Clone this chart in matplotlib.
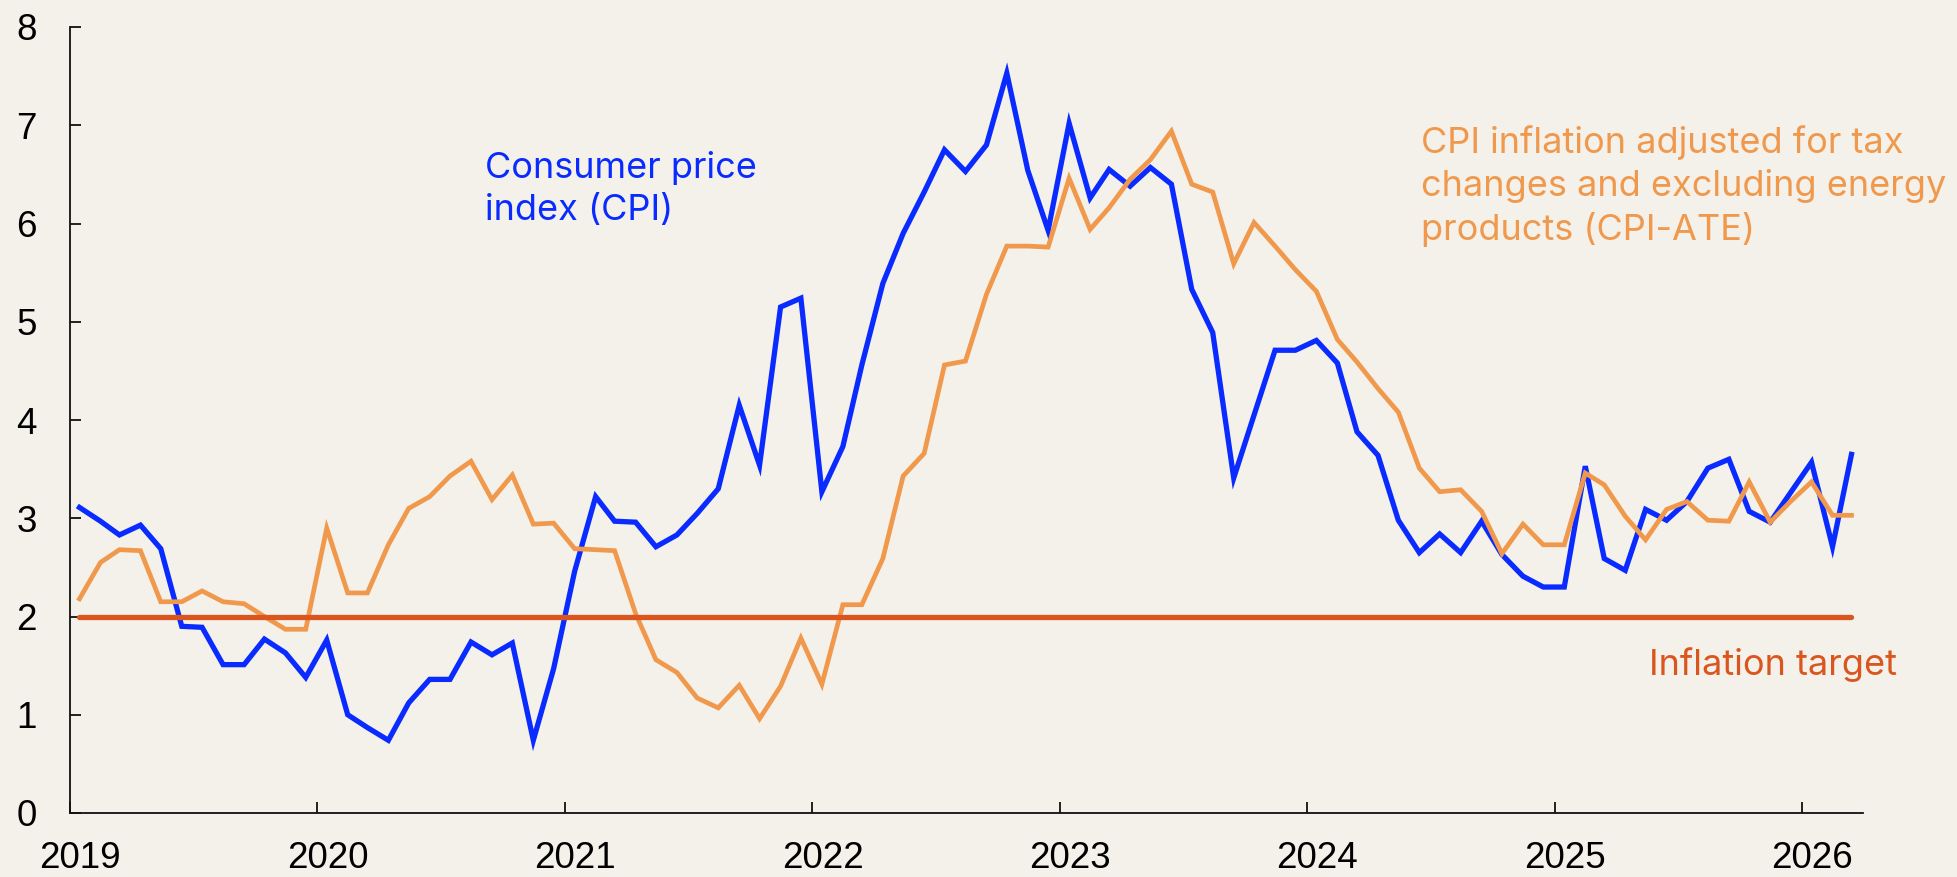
import matplotlib
matplotlib.use("Agg")
import matplotlib.pyplot as plt
import pandas as pd

# ---- data (monthly, Jan 2019 - Mar 2026, annual % change) ----
cpi = [3.11, 2.97, 2.83, 2.93, 2.69, 1.90, 1.89, 1.51, 1.51, 1.77, 1.63, 1.38,
       1.76, 1.00, 0.87, 0.74, 1.12, 1.36, 1.36, 1.74, 1.61, 1.73, 0.74, 1.47,
       2.46, 3.22, 2.97, 2.96, 2.71, 2.83, 3.05, 3.30, 4.15, 3.54, 5.15, 5.24,
       3.27, 3.73, 4.56, 5.39, 5.90, 6.32, 6.75, 6.53, 6.80, 7.53, 6.54, 5.93,
       7.02, 6.26, 6.55, 6.38, 6.57, 6.40, 5.33, 4.89, 3.41, 4.05, 4.71, 4.71,
       4.81, 4.58, 3.88, 3.64, 2.98, 2.65, 2.84, 2.65, 2.97, 2.63, 2.41, 2.30,
       2.30, 3.53, 2.59, 2.47, 3.09, 2.98, 3.17, 3.51, 3.60, 3.07, 2.96, 3.26,
       3.57, 2.71, 3.65]
cpi_ate = [2.18, 2.55, 2.68, 2.67, 2.15, 2.15, 2.26, 2.15, 2.13, 2.00, 1.87, 1.87,
           2.90, 2.24, 2.24, 2.73, 3.10, 3.22, 3.43, 3.58, 3.19, 3.44, 2.94, 2.95,
           2.69, 2.68, 2.67, 2.03, 1.56, 1.43, 1.17, 1.07, 1.30, 0.96, 1.29, 1.78,
           1.31, 2.12, 2.12, 2.59, 3.43, 3.66, 4.56, 4.60, 5.28, 5.77, 5.77, 5.76,
           6.46, 5.94, 6.16, 6.45, 6.65, 6.94, 6.40, 6.32, 5.59, 6.01, 5.77, 5.53,
           5.31, 4.82, 4.59, 4.32, 4.08, 3.51, 3.27, 3.29, 3.07, 2.64, 2.94, 2.73,
           2.73, 3.46, 3.34, 3.02, 2.78, 3.09, 3.17, 2.98, 2.97, 3.37, 2.96, 3.17,
           3.37, 3.03, 3.03]
target_value = 2.0
start_month = "2019-01"
year_labels = ["2019", "2020", "2021", "2022", "2023", "2024", "2025", "2026"]
y_ticks = [0, 1, 2, 3, 4, 5, 6, 7, 8]

label_cpi = "Consumer price\nindex (CPI)"
label_ate = "CPI inflation adjusted for tax\nchanges and excluding energy\nproducts (CPI-ATE)"
label_target = "Inflation target"

# ---- style ----
BG = "#F4F1EA"
BLUE = "#0A2BFF"
ORANGE = "#F0994D"
TARGET = "#DA561E"
TICK_FONT = ["Liberation Sans", "DejaVu Sans"]
TEXT_FONT = ["Inter", "DejaVu Sans"]

W, H = 1958, 877
fig = plt.figure(figsize=(W / 100, H / 100), dpi=100, facecolor=BG)
ax = fig.add_axes([70 / W, 1 - 813 / H, (1863 - 70) / W, (813 - 27) / H])
ax.set_facecolor(BG)

dates = pd.period_range(start_month, periods=len(cpi), freq="M").to_timestamp() + pd.Timedelta(days=14)
target = [target_value] * len(cpi)

ax.plot(dates, cpi, color=BLUE, lw=3.8, solid_joinstyle="miter", zorder=3)
ax.plot(dates, cpi_ate, color=ORANGE, lw=3.4, solid_joinstyle="miter", zorder=4)
ax.plot(dates, target, color=TARGET, lw=3.8, solid_capstyle="round", zorder=5)

ax.set_xlim(pd.Timestamp("2019-01-01"), pd.Timestamp("2026-04-01"))
ax.set_ylim(0, 8)

for s in ["top", "right"]:
    ax.spines[s].set_visible(False)
for s in ["left", "bottom"]:
    ax.spines[s].set_linewidth(1.3)
    ax.spines[s].set_color("#111111")

major = [pd.Timestamp(f"{y}-01-01") for y in year_labels]
minor = [pd.Timestamp(f"{y}-01-16") for y in year_labels]
ax.set_xticks(major)
ax.set_xticklabels([])
ax.set_xticks(minor, minor=True)
ax.set_xticklabels(year_labels, minor=True, fontfamily=TICK_FONT, fontsize=26.5)
ax.tick_params(axis="x", which="major", direction="in", length=8, width=1.3, color="#111111")
ax.tick_params(axis="x", which="minor", length=0, pad=20)

ax.set_yticks(y_ticks)
ax.set_yticklabels([str(v) for v in y_ticks], fontfamily=TICK_FONT, fontsize=26.5)
ax.tick_params(axis="y", direction="in", length=8, width=1.3, color="#111111", pad=24)

# multi-line labels: position refers to the baseline of the last line
fig.text(485 / W, 1 - 220 / H, label_cpi, color=BLUE, fontfamily=TEXT_FONT,
         fontsize=26, va="baseline", ha="left", linespacing=1.33)
fig.text(1421 / W, 1 - 240 / H, label_ate, color=ORANGE, fontfamily=TEXT_FONT,
         fontsize=26, va="baseline", ha="left", linespacing=1.33)
fig.text(1649 / W, 1 - 675 / H, label_target, color=TARGET, fontfamily=TEXT_FONT,
         fontsize=26, va="baseline", ha="left")

fig.savefig("out.png", dpi=100, facecolor=BG)
